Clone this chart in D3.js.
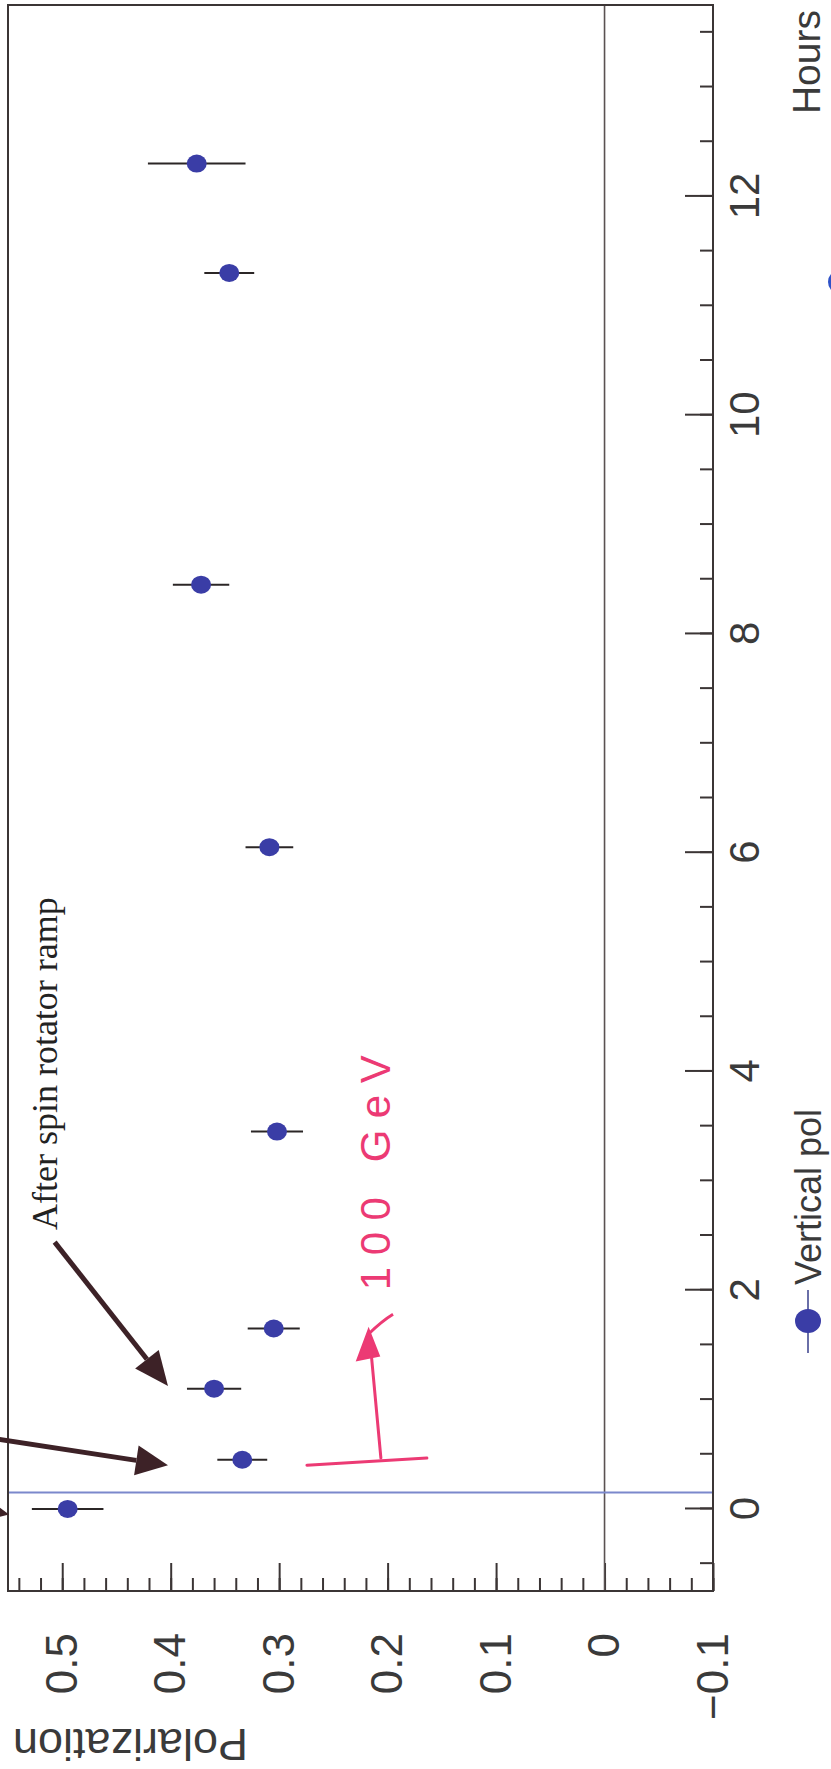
<!DOCTYPE html>
<html>
<head>
<meta charset="utf-8">
<script src="https://cdn.jsdelivr.net/npm/d3@7"></script>
<style>
  body { margin: 0; background: #fff; }
  svg { display: block; }
  .axis path { display: none; }
  .axis line { stroke: #3b3535; stroke-width: 2; }
  .axis text { font-family: "Liberation Sans", Arial, sans-serif; fill: #3a3a3a; }
</style>
</head>
<body>
<svg id="chart" width="831" height="1769"></svg>
<script>
// measured polarization vs hours (vertical pol)
var hours  = [0.0, 0.45, 1.1, 1.65, 3.45, 6.05, 8.45, 11.3, 12.3];
var pol    = [0.495, 0.334, 0.36, 0.305, 0.302, 0.309, 0.372, 0.346, 0.376];
var polErr = [0.033, 0.023, 0.025, 0.024, 0.024, 0.022, 0.026, 0.023, 0.045];

var hourTicks  = [0, 2, 4, 6, 8, 10, 12];
var polTicks   = [0.5, 0.4, 0.3, 0.2, 0.1, 0, -0.1];
var rampHour   = 0.15;   // thin blue marker line

var data = hours.map((h, i) => ({h: h, p: pol[i], e: polErr[i]}));

// chart is drawn the normal way then turned on its side
var W = 1586, H = 705;
var svg = d3.select('#chart');
svg.append('rect').attr('width', 831).attr('height', 1769).attr('fill', '#fff');

var g = svg.append('g').attr('transform', 'translate(8,1591) rotate(-90)');

var x = d3.scaleLinear().domain([-0.75, 13.75]).range([0, W]);
var y = d3.scaleLinear().domain([-0.1, 0.55]).range([H, 0]);

var fmt = v => v === 0 ? '0' : d3.format('.1f')(v);

// minor ticks
g.append('g').attr('class', 'axis')
  .call(d3.axisLeft(y).tickValues(d3.range(-0.1, 0.551, 0.02)).tickSize(-13).tickFormat(''));
g.append('g').attr('class', 'axis').attr('transform', 'translate(0,' + H + ')')
  .call(d3.axisBottom(x).tickValues(d3.range(-0.5, 13.6, 0.5)).tickSize(-13).tickFormat(''));

// major ticks + labels
g.append('g').attr('class', 'axis')
  .call(d3.axisLeft(y).tickValues(polTicks).tickSize(-28).tickPadding(42).tickFormat(fmt))
  .selectAll('text').style('font-size', '44px');
g.append('g').attr('class', 'axis').attr('transform', 'translate(0,' + H + ')')
  .call(d3.axisBottom(x).tickValues(hourTicks).tickSize(-28).tickPadding(16))
  .selectAll('text').style('font-size', '42px');

// zero line and ramp line
g.append('line')
  .attr('x1', 0).attr('x2', W).attr('y1', y(0)).attr('y2', y(0))
  .attr('stroke', '#5a5252').attr('stroke-width', 1.6);
g.append('line')
  .attr('x1', x(rampHour)).attr('x2', x(rampHour)).attr('y1', 0).attr('y2', H)
  .attr('stroke', '#7b88cc').attr('stroke-width', 2);

// frame
g.append('rect').attr('width', W).attr('height', H)
  .attr('fill', 'none').attr('stroke', '#3b3535').attr('stroke-width', 2);

// error bars and points
var pts = g.selectAll('.pt').data(data).enter().append('g').attr('class', 'pt');
pts.append('line')
  .attr('x1', d => x(d.h)).attr('x2', d => x(d.h))
  .attr('y1', d => y(d.p - d.e)).attr('y2', d => y(d.p + d.e))
  .attr('stroke', '#2b2626').attr('stroke-width', 2);
pts.append('ellipse')
  .attr('cx', d => x(d.h)).attr('cy', d => y(d.p))
  .attr('rx', 9).attr('ry', 10)
  .attr('fill', '#3a3da6');

// axis titles
g.append('text').text('Hours')
  .attr('x', 1581).attr('y', 812).attr('text-anchor', 'end')
  .style('font-family', '"Liberation Sans", Arial, sans-serif').style('font-size', '39px').attr('fill', '#3a3a3a');
g.append('text').text('Polarization')
  .attr('transform', 'translate(-138,240) rotate(-90)')
  .style('font-family', '"Liberation Sans", Arial, sans-serif').style('font-size', '45px').attr('fill', '#3a3a3a');

// legend
var lg = g.append('g').attr('transform', 'translate(270,800)');
lg.append('line').attr('x1', -32).attr('x2', 31).attr('stroke', '#6a6fa8').attr('stroke-width', 2);
lg.append('ellipse').attr('rx', 12).attr('ry', 13).attr('fill', '#3a3da6');
lg.append('text').text('Vertical pol').attr('x', 36).attr('y', 13)
  .style('font-family', '"Liberation Sans", Arial, sans-serif').style('font-size', '36px').attr('fill', '#3a3a3a');
// clipped second legend marker at page edge
g.append('ellipse').attr('cx', 1309).attr('cy', 832).attr('rx', 12).attr('ry', 12).attr('fill', '#2f52c8');

// hand annotations (in data units)
var brown = '#3d2227';
function arrow(h0, p0, h1, p1, len, half) {
  var x0 = x(h0), y0 = y(p0), x1 = x(h1), y1 = y(p1);
  var a = Math.atan2(y1 - y0, x1 - x0);
  var bx = x1 - len * Math.cos(a), by = y1 - len * Math.sin(a);
  g.append('line').attr('x1', x0).attr('y1', y0).attr('x2', bx).attr('y2', by)
    .attr('stroke', brown).attr('stroke-width', 5);
  var nx = -Math.sin(a) * half, ny = Math.cos(a) * half;
  g.append('path')
    .attr('d', 'M' + x1 + ',' + y1 + 'L' + (bx + nx) + ',' + (by + ny) + 'L' + (bx - nx) + ',' + (by - ny) + 'Z')
    .attr('fill', brown);
}
arrow(0.69, 0.594, 0.40, 0.4025, 32, 15);
arrow(2.44, 0.507, 1.125, 0.4025, 34, 15);
arrow(0.05, 0.60, -0.05, 0.549, 30, 14);

g.append('text').text('After spin rotator ramp')
  .attr('x', x(2.55)).attr('y', y(0.505))
  .style('font-family', '"Liberation Serif", "Times New Roman", serif').style('font-size', '36px').attr('fill', '#222');

var pink = '#ec3a74';
g.append('line').attr('x1', x(0.40)).attr('y1', y(0.2744)).attr('x2', x(0.466)).attr('y2', y(0.1638))
  .attr('stroke', pink).attr('stroke-width', 3).attr('stroke-linecap', 'round');
g.append('line').attr('x1', x(0.466)).attr('y1', y(0.2062)).attr('x2', x(1.45)).attr('y2', y(0.2154))
  .attr('stroke', pink).attr('stroke-width', 3).attr('stroke-linecap', 'round');
g.append('path')
  .attr('d', 'M' + x(1.64) + ',' + y(0.2175) + 'L' + x(1.36) + ',' + y(0.228) + 'L' + x(1.40) + ',' + y(0.208) + 'Z')
  .attr('fill', pink).attr('stroke', pink).attr('stroke-width', 2);
g.append('path')
  .attr('d', 'M' + x(1.60) + ',' + y(0.2175) + 'Q' + x(1.72) + ',' + y(0.205) + ' ' + x(1.78) + ',' + y(0.195))
  .attr('fill', 'none').attr('stroke', pink).attr('stroke-width', 3);
g.append('text').text('100 GeV')
  .attr('x', x(2.0)).attr('y', y(0.198))
  .attr('textLength', 235).attr('lengthAdjust', 'spacing')
  .style('font-family', '"Liberation Sans", sans-serif').style('font-size', '42px').attr('fill', pink);
</script>
</body>
</html>
